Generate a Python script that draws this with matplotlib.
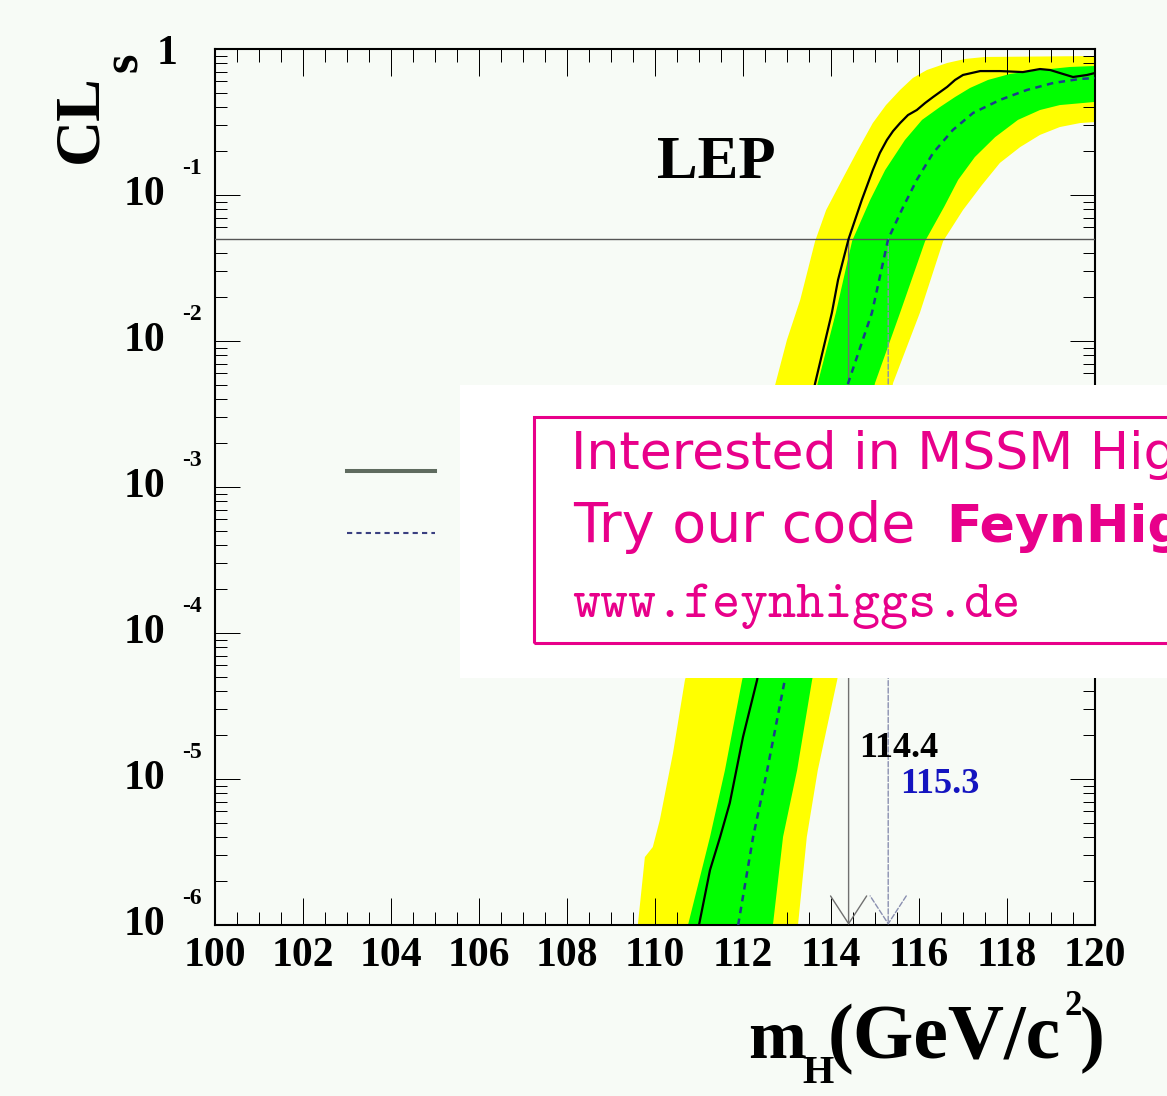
import math
import matplotlib
matplotlib.use("Agg")
import matplotlib.pyplot as plt
from matplotlib.lines import Line2D
from matplotlib.patches import Rectangle
from matplotlib.ticker import MultipleLocator, LogLocator, NullFormatter
from matplotlib.transforms import blended_transform_factory, offset_copy

# Observed CLs versus Higgs mass
obs_mass = [111.0, 111.25, 111.48, 111.70, 112.0, 112.32, 112.95, 113.64, 114.02,
            114.16, 114.4, 114.70, 114.95, 115.11, 115.27, 115.41, 115.57, 115.75,
            115.95, 116.14, 116.32, 116.64, 116.82, 117.0, 117.39, 117.84, 118.36,
            118.75, 118.98, 119.27, 119.50, 119.82, 120.0]
obs_cls = [1.0e-6, 2.38e-6, 4.01e-6, 6.85e-6, 1.94e-5, 4.76e-5, 5.07e-4, 5.15e-3, 1.56e-2,
           2.62e-2, 0.05, 9.25e-2, 0.148, 0.194, 0.238, 0.274, 0.311, 0.353,
           0.382, 0.427, 0.469, 0.550, 0.614, 0.664, 0.706, 0.706, 0.695,
           0.729, 0.718, 0.675, 0.643, 0.664, 0.685]

# Median expectation for background only
exp_mass = [111.89, 112.23, 112.55, 112.95, 114.39, 114.93, 115.3, 115.64, 115.95,
            116.32, 116.77, 117.23, 117.84, 118.45, 119.05, 119.66, 120.0]
exp_cls = [1.0e-6, 4.01e-6, 1.15e-5, 4.76e-5, 5.15e-3, 1.56e-2, 0.05, 8.28e-2, 0.127,
           0.194, 0.279, 0.365, 0.448, 0.524, 0.585, 0.624, 0.632]

# 68% band edges
band1_hi_mass = [110.75, 111.25, 111.59, 111.98, 113.70, 114.11, 114.48, 114.89,
                 115.23, 115.68, 116.07, 116.48, 116.82, 117.16, 117.57, 118.07,
                 118.75, 119.43, 120.0]
band1_hi_cls = [1e-6, 4.01e-6, 1.15e-5, 4.76e-5, 5.15e-3, 1.56e-2, 4.84e-2, 9.25e-2,
                0.148, 0.238, 0.327, 0.401, 0.469, 0.541, 0.614, 0.675,
                0.718, 0.753, 0.765]
band1_lo_mass = [112.68, 112.91, 113.23, 113.57, 115.0, 115.57, 116.14, 116.57,
                 116.89, 117.27, 117.73, 118.25, 118.75, 119.20, 120.0]
band1_lo_cls = [1e-6, 4.01e-6, 1.15e-5, 4.76e-5, 5.15e-3, 1.56e-2, 4.84e-2, 8.28e-2,
                0.127, 0.182, 0.249, 0.327, 0.382, 0.413, 0.434]

# 95% band edges
band2_hi_mass = [109.61, 109.77, 109.95, 110.11, 110.41, 110.68, 112.73, 113.0,
                 113.30, 113.64, 113.89, 114.25, 114.61, 114.95, 115.25, 115.57,
                 115.86, 116.18, 116.64, 117.05, 117.50, 120.0]
band2_hi_cls = [1e-6, 2.92e-6, 3.42e-6, 5.24e-6, 1.51e-5, 4.76e-5, 5.0e-3, 1.02e-2,
                1.91e-2, 4.84e-2, 7.89e-2, 0.127, 0.203, 0.311, 0.413, 0.524,
                0.633, 0.718, 0.802, 0.855, 0.882, 0.895]
band2_lo_mass = [113.25, 113.45, 113.70, 114.14, 115.41, 116.02, 116.55, 117.0,
                 117.43, 117.84, 118.30, 118.75, 119.20, 119.66, 120.0]
band2_lo_cls = [1e-6, 4.01e-6, 1.15e-5, 4.76e-5, 5.15e-3, 1.56e-2, 4.84e-2, 7.89e-2,
                0.117, 0.166, 0.213, 0.258, 0.292, 0.311, 0.316]

cl_level = 0.05
obs_limit = 114.4
exp_limit = 115.3
decades = [1e-6, 1e-5, 1e-4, 1e-3, 1e-2, 1e-1, 1]
legend_labels = ["Observed", "Expected for background"]

W, H = 1167, 1096
bg = "#f7fbf6"
magenta = "#e8008a"

plt.rcParams["font.family"] = ["Liberation Serif", "DejaVu Serif"]
plt.rcParams["font.weight"] = "bold"


def fx(px):
    return px / W


def fy(py):
    return 1 - py / H


fig = plt.figure(figsize=(W / 100, H / 100), dpi=100, facecolor=bg)
ax = fig.add_axes([fx(215), fy(925), fx(1095) - fx(215), fy(49) - fy(925)])
ax.set_facecolor(bg)

# bands
ax.fill(band2_hi_mass + band2_lo_mass[::-1], band2_hi_cls + band2_lo_cls[::-1],
        color="#ffff00", lw=0, zorder=1)
ax.fill(band1_hi_mass + band1_lo_mass[::-1], band1_hi_cls + band1_lo_cls[::-1],
        color="#00ff00", lw=0, zorder=2)

ax.plot(exp_mass, exp_cls, color="#1c3c8c", lw=1.8, ls=(0, (2.6, 2.2)), zorder=4)
ax.plot(obs_mass, obs_cls, color="black", lw=1.6, zorder=5)

ax.axhline(cl_level, color="#555555", lw=1.0, zorder=3)

# limit arrows
ax.annotate("", xy=(obs_limit, decades[0]), xytext=(obs_limit, cl_level),
            arrowprops=dict(arrowstyle="->,head_length=1.0,head_width=0.65",
                            color="#707070", lw=1.0, shrinkA=0, shrinkB=0,
                            mutation_scale=20), zorder=3)
ax.annotate("", xy=(exp_limit, decades[0]), xytext=(exp_limit, cl_level),
            arrowprops=dict(arrowstyle="->,head_length=1.0,head_width=0.65",
                            color="#8a8fb0", lw=1.0, ls="--", shrinkA=0, shrinkB=0,
                            mutation_scale=20), zorder=3)
ax.text(obs_limit + 0.23, 1.42e-5, f"{obs_limit:.1f}", fontsize=26,
        color="black", va="baseline", ha="left")
ax.text(exp_limit + 0.27, 8.0e-6, f"{exp_limit:.1f}", fontsize=26,
        color="#1414c0", va="baseline", ha="left")

ax.text(0.502, 0.853, "LEP", transform=ax.transAxes, fontsize=44,
        va="baseline", ha="left")

# axes, ticks
ax.set_xlim(100, 120)
ax.set_yscale("log")
ax.set_ylim(decades[0], decades[-1])
ax.xaxis.set_major_locator(MultipleLocator(2))
ax.xaxis.set_minor_locator(MultipleLocator(0.5))
ax.set_yticks(decades)
ax.yaxis.set_minor_locator(LogLocator(base=10, subs=range(2, 10)))
ax.yaxis.set_major_formatter(NullFormatter())
ax.yaxis.set_minor_formatter(NullFormatter())
ax.tick_params(which="both", direction="in", top=True, right=True,
               width=0.72, color="black")
ax.tick_params(axis="x", which="major", length=19.5, labelsize=30, pad=8.8)
ax.tick_params(axis="x", which="minor", length=9.5)
ax.tick_params(axis="y", which="major", length=18)
ax.tick_params(axis="y", which="minor", length=8.6)
for s in ax.spines.values():
    s.set_linewidth(1.5)

ytrans = blended_transform_factory(fig.transFigure, ax.transData)
exp_trans = offset_copy(ytrans, fig=fig, x=0, y=26, units="dots")
one_trans = offset_copy(ytrans, fig=fig, x=0, y=-5, units="dots")
for d in decades:
    if d == 1:
        fig.text(fx(177), d, "1", transform=one_trans, fontsize=30,
                 ha="right", va="center")
    else:
        fig.text(fx(165), d, "10", transform=ytrans, fontsize=30,
                 ha="right", va="center")
        fig.text(fx(182), d, f"-{round(-math.log10(d))}",
                 transform=exp_trans, fontsize=17, ha="left", va="center")

# axis titles
fig.text(fx(96), fy(163), "CL", rotation=90, rotation_mode="anchor",
         fontsize=46, ha="left", va="baseline")
fig.text(fx(137), fy(72), "s", rotation=90, rotation_mode="anchor",
         fontsize=36, ha="left", va="baseline")

fig.text(fx(748), fy(1058), "m", fontsize=50, va="baseline")
fig.text(fx(802), fy(1083), "H", fontsize=29, va="baseline")
fig.text(fx(828), fy(1058), "(GeV/c", fontsize=56, va="baseline")
fig.text(fx(1064), fy(1015), "2", fontsize=25, va="baseline")
fig.text(fx(1080), fy(1058), ")", fontsize=54, va="baseline")

# legend
handles = [Line2D([], [], color="#5f6b5f", lw=2.9),
           Line2D([], [], color="#3a3f80", lw=1.5, ls=(0, (2.5, 2)))]
ax.legend(handles, legend_labels, loc="center left",
          bbox_to_anchor=(fx(347), fy(506.5)), bbox_transform=fig.transFigure,
          frameon=False, fontsize=30, handlelength=2.11, borderpad=0,
          borderaxespad=0, labelspacing=0.56, handletextpad=1.0)

# banner
fig.add_artist(Rectangle((fx(460), fy(678)), 1 - fx(460), fy(385) - fy(678),
                         transform=fig.transFigure, facecolor="white",
                         edgecolor="none", zorder=10))
fig.add_artist(Rectangle((fx(534), fy(643)), 1.0, fy(417) - fy(643),
                         transform=fig.transFigure, facecolor="none",
                         edgecolor=magenta, lw=2.2, zorder=11))
fig.text(fx(571), fy(469), "Interested in MSSM Higgs?", fontsize=37.5,
         family="DejaVu Sans", weight="normal", color=magenta, zorder=12)
fig.text(fx(573), fy(542), "Try our code", fontsize=40,
         family="DejaVu Sans", weight="normal", color=magenta, zorder=12)
fig.text(fx(946), fy(542), "FeynHiggs", fontsize=37.5,
         family="DejaVu Sans", weight="bold", color=magenta, zorder=12)
fig.text(fx(572), fy(617), "www.feynhiggs.de", fontsize=38.4,
         family=["cmtt10", "DejaVu Sans Mono"], weight="normal",
         color=magenta, zorder=12)

fig.savefig("out.png", dpi=100, facecolor=bg)
